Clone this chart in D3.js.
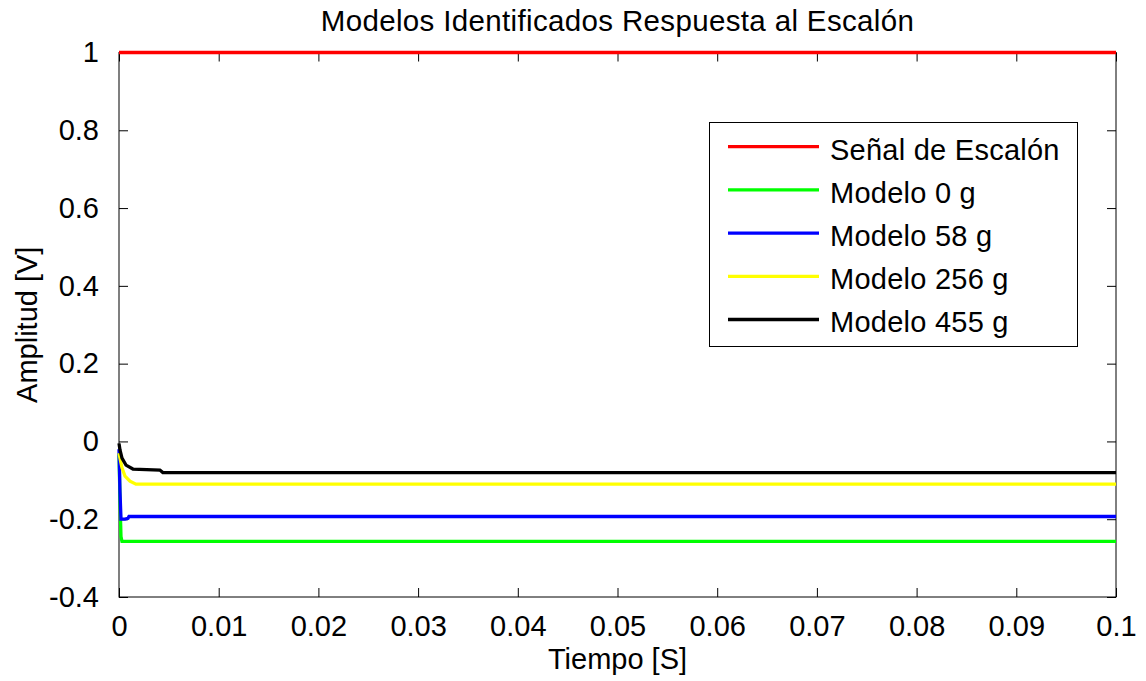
<!DOCTYPE html>
<html>
<head>
<meta charset="utf-8">
<script src="https://cdn.jsdelivr.net/npm/d3@7"></script>
<style>
  html, body { margin: 0; padding: 0; background: #fff; }
  svg { display: block; }
  text { font-family: "Liberation Sans", Arial, Helvetica, sans-serif; fill: #000; }
</style>
</head>
<body>
<svg id="chart" width="1146" height="681"></svg>
<script>
// Step responses of the identified models
const titulo = "Modelos Identificados Respuesta al Escalón";
const etiquetaX = "Tiempo [S]";
const etiquetaY = "Amplitud [V]";

const etiquetas = ["Señal de Escalón", "Modelo 0 g", "Modelo 58 g", "Modelo 256 g", "Modelo 455 g"];

const tEscalon = [0, 0.1];
const yEscalon = [1, 1];

const tModelo0 = [0, 0.0001, 0.0002, 0.0003, 0.1];
const yModelo0 = [-0.03, -0.15, -0.245, -0.257, -0.257];

const tModelo58 = [0, 0.0001, 0.0002, 0.0006, 0.0009, 0.001, 0.1];
const yModelo58 = [-0.02, -0.13, -0.2, -0.2, -0.198, -0.193, -0.193];

const tModelo256 = [0, 0.0001, 0.0003, 0.0006, 0.0011, 0.0017, 0.1];
const yModelo256 = [-0.03, -0.043, -0.068, -0.089, -0.102, -0.11, -0.11];

const tModelo455 = [0, 0.0001, 0.0003, 0.0007, 0.0014, 0.0041, 0.0044, 0.1];
const yModelo455 = [-0.005, -0.022, -0.043, -0.061, -0.071, -0.0735, -0.08, -0.08];

const ticksX = [0, 0.01, 0.02, 0.03, 0.04, 0.05, 0.06, 0.07, 0.08, 0.09, 0.1];
const ticksY = [-0.4, -0.2, 0, 0.2, 0.4, 0.6, 0.8, 1];

// line colours, in the same order as the legend entries
const colores = ["#ff0000", "#00ff00", "#0000ff", "#ffff00", "#000000"];

const tiempos = [tEscalon, tModelo0, tModelo58, tModelo256, tModelo455];
const valores = [yEscalon, yModelo0, yModelo58, yModelo256, yModelo455];

const svg = d3.select("#chart");
const mLeft = 119, mRight = 1116, mTop = 52.5, mBottom = 597;
const fontSize = 29;

const x = d3.scaleLinear().domain([0, 0.1]).range([mLeft, mRight]);
const y = d3.scaleLinear().domain([-0.4, 1]).range([mBottom, mTop]);

svg.append("rect").attr("width", 1146).attr("height", 681).attr("fill", "#fff");

// axes box
svg.append("rect")
  .attr("x", mLeft).attr("y", mTop)
  .attr("width", mRight - mLeft).attr("height", mBottom - mTop)
  .attr("fill", "none").attr("stroke", "#000").attr("stroke-width", 1);

const fmt = d => (Math.round(d * 100) / 100).toString();
const tickLen = 9;

// bottom axis with inward ticks
const axB = svg.append("g").attr("transform", `translate(0,${mBottom})`)
  .call(d3.axisBottom(x).tickValues(ticksX).tickFormat(fmt).tickSize(-tickLen).tickPadding(tickLen + 9));
// top axis, ticks only
const axT = svg.append("g").attr("transform", `translate(0,${mTop})`)
  .call(d3.axisTop(x).tickValues(ticksX).tickFormat("").tickSize(-tickLen));
// left axis with labels
const axL = svg.append("g").attr("transform", `translate(${mLeft},0)`)
  .call(d3.axisLeft(y).tickValues(ticksY).tickFormat(fmt).tickSize(-tickLen).tickPadding(tickLen + 11));
// right axis, ticks only
const axR = svg.append("g").attr("transform", `translate(${mRight},0)`)
  .call(d3.axisRight(y).tickValues(ticksY).tickFormat("").tickSize(-tickLen));

[axB, axT, axL, axR].forEach(g => {
  g.select(".domain").remove();
  g.selectAll(".tick line").attr("stroke", "#000").attr("stroke-width", 1);
  g.selectAll("text").attr("font-size", fontSize)
    .attr("font-family", '"Liberation Sans", Arial, Helvetica, sans-serif').attr("fill", "#000");
});
axB.selectAll("text").attr("dy", "0.71em");

// response curves
const linea = d3.line().x(d => x(d[0])).y(d => y(d[1]));
tiempos.forEach((ts, i) => {
  const pts = ts.map((t, k) => [t, valores[i][k]]);
  svg.append("path")
    .attr("d", linea(pts))
    .attr("fill", "none")
    .attr("stroke", colores[i])
    .attr("stroke-width", 3.3)
    .attr("stroke-linejoin", "miter");
});

// title and axis labels
svg.append("text").attr("x", (mLeft + mRight) / 2).attr("y", 31)
  .attr("text-anchor", "middle").attr("font-size", 29.5)
  .attr("letter-spacing", 0.35).text(titulo);
svg.append("text").attr("x", (mLeft + mRight) / 2).attr("y", 669)
  .attr("text-anchor", "middle").attr("font-size", fontSize).text(etiquetaX);
svg.append("text")
  .attr("transform", `translate(37,${(mTop + mBottom) / 2}) rotate(-90)`)
  .attr("text-anchor", "middle").attr("font-size", fontSize).text(etiquetaY);

// legend
const leg = { x: 709.5, y: 122.5, w: 368, h: 224, row0: 146.7, step: 43.2, l0: 728, l1: 819, tx: 830 };
svg.append("rect")
  .attr("x", leg.x).attr("y", leg.y).attr("width", leg.w).attr("height", leg.h)
  .attr("fill", "#fff").attr("stroke", "#000").attr("stroke-width", 1);
etiquetas.forEach((lab, i) => {
  const yy = leg.row0 + i * leg.step;
  svg.append("line")
    .attr("x1", leg.l0).attr("x2", leg.l1).attr("y1", yy).attr("y2", yy)
    .attr("stroke", colores[i]).attr("stroke-width", 3.3);
  svg.append("text").attr("x", leg.tx).attr("y", yy + 12.8)
    .attr("font-size", fontSize).attr("letter-spacing", 0.25).text(lab);
});
</script>
</body>
</html>
